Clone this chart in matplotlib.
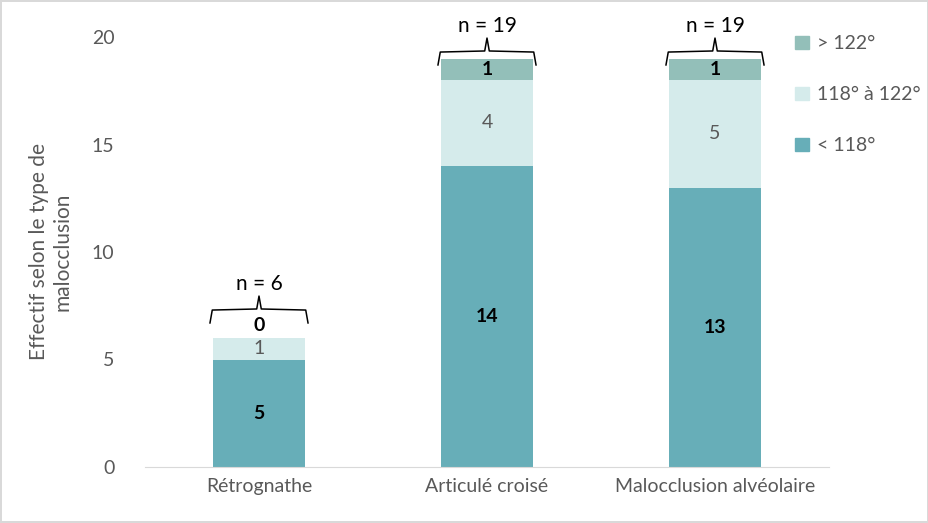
import matplotlib
matplotlib.use("Agg")
import matplotlib.pyplot as plt
from matplotlib.patches import Patch
import numpy as np

categories = ["Rétrognathe", "Articulé croisé", "Malocclusion alvéolaire"]
series_names = ["< 118°", "118° à 122°", "> 122°"]
low = [5, 14, 13]
mid = [1, 4, 5]
high = [0, 1, 1]
totals = [6, 19, 19]

colors = ["#67AEB8", "#D5EBEB", "#93BFB9"]
text_gray = "#595959"

plt.rcParams["font.family"] = ["Lato", "DejaVu Sans"]

fig = plt.figure(figsize=(9.29, 5.23), dpi=100)
fig.patch.set_edgecolor("#D9D9D9")
fig.patch.set_linewidth(1.5)
ax = fig.add_axes([145 / 929, 1 - 467 / 523, 684 / 929, 430 / 523])

x = np.arange(len(categories))
width = 0.4
series = [low, mid, high]
bottom = np.zeros(len(categories))
for vals, col, name in zip(series, colors, series_names):
    ax.bar(x, vals, width, bottom=bottom, color=col, label=name)
    bottom += np.array(vals)

# segment labels
for i in range(len(categories)):
    ax.text(x[i], low[i] / 2, str(low[i]), ha="center", va="center",
            fontsize=14, fontweight="bold", color="black")
    ax.text(x[i], low[i] + mid[i] / 2, str(mid[i]), ha="center", va="center",
            fontsize=14, color=text_gray)
    if high[i] > 0:
        ypos = low[i] + mid[i] + high[i] / 2
    else:
        ypos = totals[i] + 0.6
    ax.text(x[i], ypos, str(high[i]), ha="center", va="center",
            fontsize=14, fontweight="bold", color="black")

# braces with n = ...
brace_base = [0.7, -0.3, -0.3]
for i in range(len(categories)):
    y0 = totals[i] + brace_base[i]
    hw = 0.215
    xs = [x[i] - hw, x[i] - hw + 0.01, x[i] - 0.01, x[i], x[i] + 0.01, x[i] + hw - 0.01, x[i] + hw]
    ys = [y0, y0 + 0.6, y0 + 0.65, y0 + 1.25, y0 + 0.65, y0 + 0.6, y0]
    ax.plot(xs, ys, color="black", lw=1.1, clip_on=False, solid_joinstyle="round")
    ax.text(x[i], y0 + 1.35, f"n = {totals[i]}", ha="center", va="bottom",
            fontsize=15, color="black", clip_on=False)

ax.set_xlim(-0.5, 2.5)
ax.set_ylim(0, 20)
ax.set_xticks(x)
ax.set_xticklabels(categories, fontsize=14, color=text_gray)
ax.set_yticks([0, 5, 10, 15, 20])
ax.tick_params(axis="y", labelsize=14, labelcolor=text_gray, length=0, pad=22)
ax.tick_params(axis="x", length=0, pad=8)
for s in ["top", "right", "left"]:
    ax.spines[s].set_visible(False)
ax.spines["bottom"].set_color("#D9D9D9")
ax.set_ylabel("Effectif selon le type de\nmalocclusion", fontsize=15, color=text_gray, labelpad=14)

handles = [Patch(color=colors[2]), Patch(color=colors[1]), Patch(color=colors[0])]
ax.legend(handles, ["> 122°", "118° à 122°", "< 118°"], loc="upper left",
          bbox_to_anchor=(0.925, 1.045), frameon=False, fontsize=14,
          labelcolor=text_gray, handlelength=0.7, handleheight=0.7,
          handletextpad=0.4, labelspacing=1.75)

fig.savefig("out.png", dpi=100)
